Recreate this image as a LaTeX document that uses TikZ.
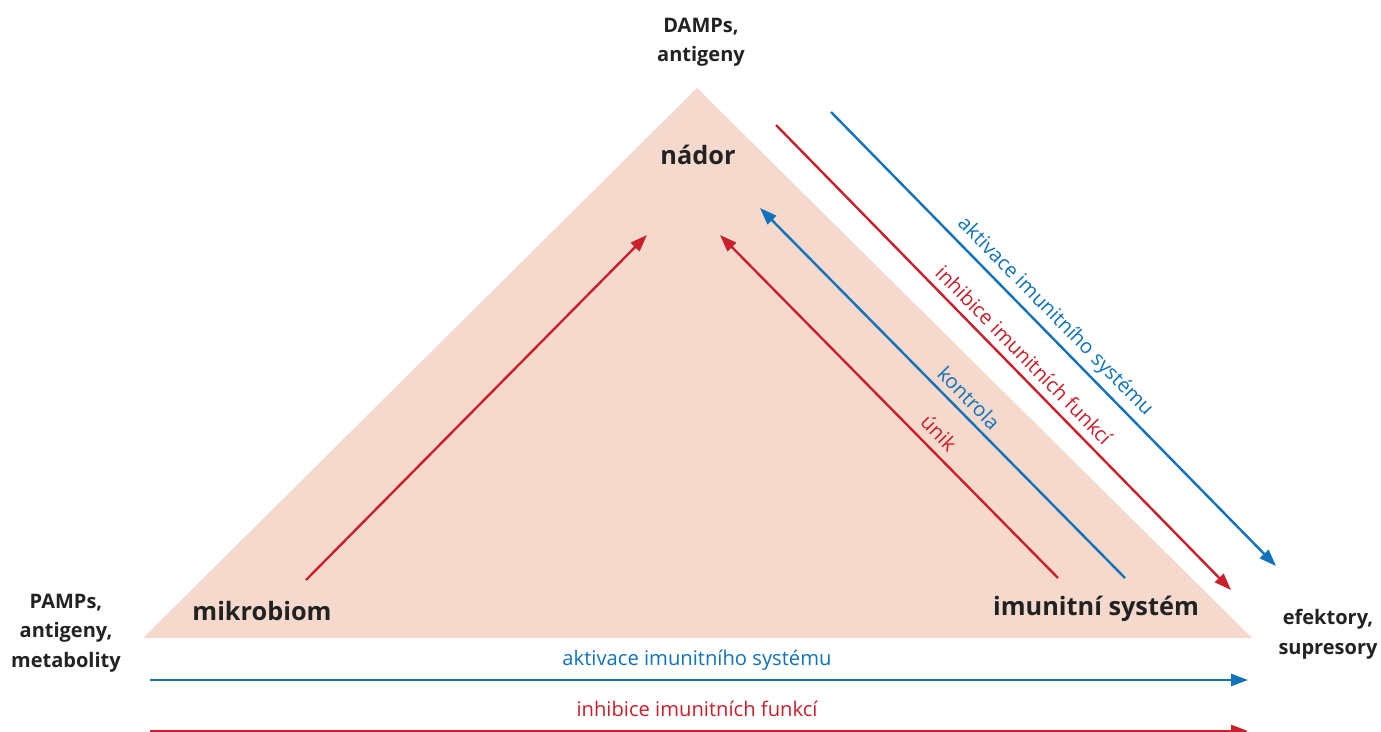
\documentclass[tikz,border=0pt]{standalone}
\usepackage{fontspec}
\setmainfont{Open Sans}
\usetikzlibrary{arrows.meta}
\definecolor{tumorfill}{HTML}{F5D9CD}
\definecolor{redarrow}{HTML}{C9202C}
\definecolor{bluearrow}{HTML}{1072BA}
\definecolor{darktext}{HTML}{222222}
\tikzset{
  bigtag/.style={font=\fontsize{25.3}{30}\selectfont\bfseries, text=darktext},
  sidetag/.style={font=\fontsize{20}{29.5}\selectfont\bfseries, text=darktext, align=center},
  flowtag/.style={font=\fontsize{20.2}{24}\selectfont, inner sep=0pt},
  flow/.style={line width=2.4pt, -{Triangle[length=17pt,width=12pt]}},
}
\begin{document}
\begin{tikzpicture}[x=1pt,y=-1pt]
        \useasboundingbox (0,0) rectangle (1381,731);

        % triangle
        \fill[tumorfill] (697,88) -- (1252,638) -- (143,638) -- cycle;

        % vertex labels
        \node[bigtag] (nador) at (698,155) {nádor};
        \node[bigtag] (mikrobiom) at (262,611) {mikrobiom};
        \node[bigtag] (imunita) at (1096,609) {imunitní systém};

        % outside labels
        \node[sidetag] (damps) at (701,42) {DAMPs,\\antigeny};
        \node[sidetag] (pamps) at (66,633) {PAMPs,\\antigeny,\\metabolity};
        \node[sidetag] (efektory) at (1328,634) {efektory,\\supresory};

        % arrow ends
        \coordinate (m1) at (306,580);
        \coordinate (m2) at (647,235);
        \coordinate (u1) at (1058,578);
        \coordinate (u2) at (720,235);
        \coordinate (k1) at (1125,578);
        \coordinate (k2) at (760,208);
        \coordinate (i1) at (776,125);
        \coordinate (i2) at (1231,590);
        \coordinate (a1) at (831,112);
        \coordinate (a2) at (1276,566);
        \coordinate (ba1) at (150,680);
        \coordinate (ba2) at (1248,680);
        \coordinate (bi1) at (150,731);
        \coordinate (bi2) at (1248,731);

        % arrows
        \draw[flow, redarrow] (m1) -- (m2);
        \draw[flow, redarrow] (u1) -- (u2);
        \draw[flow, bluearrow] (k1) -- (k2);
        \draw[flow, redarrow] (i1) -- (i2);
        \draw[flow, bluearrow] (a1) -- (a2);
        \draw[flow, bluearrow] (ba1) -- (ba2);
        \draw[flow, redarrow] (bi1) -- (bi2);

        % arrow labels
        \node[flowtag, text=redarrow, rotate=-45.5] (unik) at (939,433) {únik};
        \node[flowtag, text=bluearrow, rotate=-45.5] (kontrola) at (969,398) {kontrola};
        \node[flowtag, text=redarrow, rotate=-45.5] (inhibice) at (1024,355) {inhibice imunitních funkcí};
        \node[flowtag, text=bluearrow, rotate=-45.5] (aktivace) at (1055,317) {aktivace imunitního systému};
        \node[flowtag, text=bluearrow] (aktivaceb) at (697,660) {aktivace imunitního systému};
        \node[flowtag, text=redarrow] (inhibiceb) at (697,709) {inhibice imunitních funkcí};
\end{tikzpicture}
\end{document}
